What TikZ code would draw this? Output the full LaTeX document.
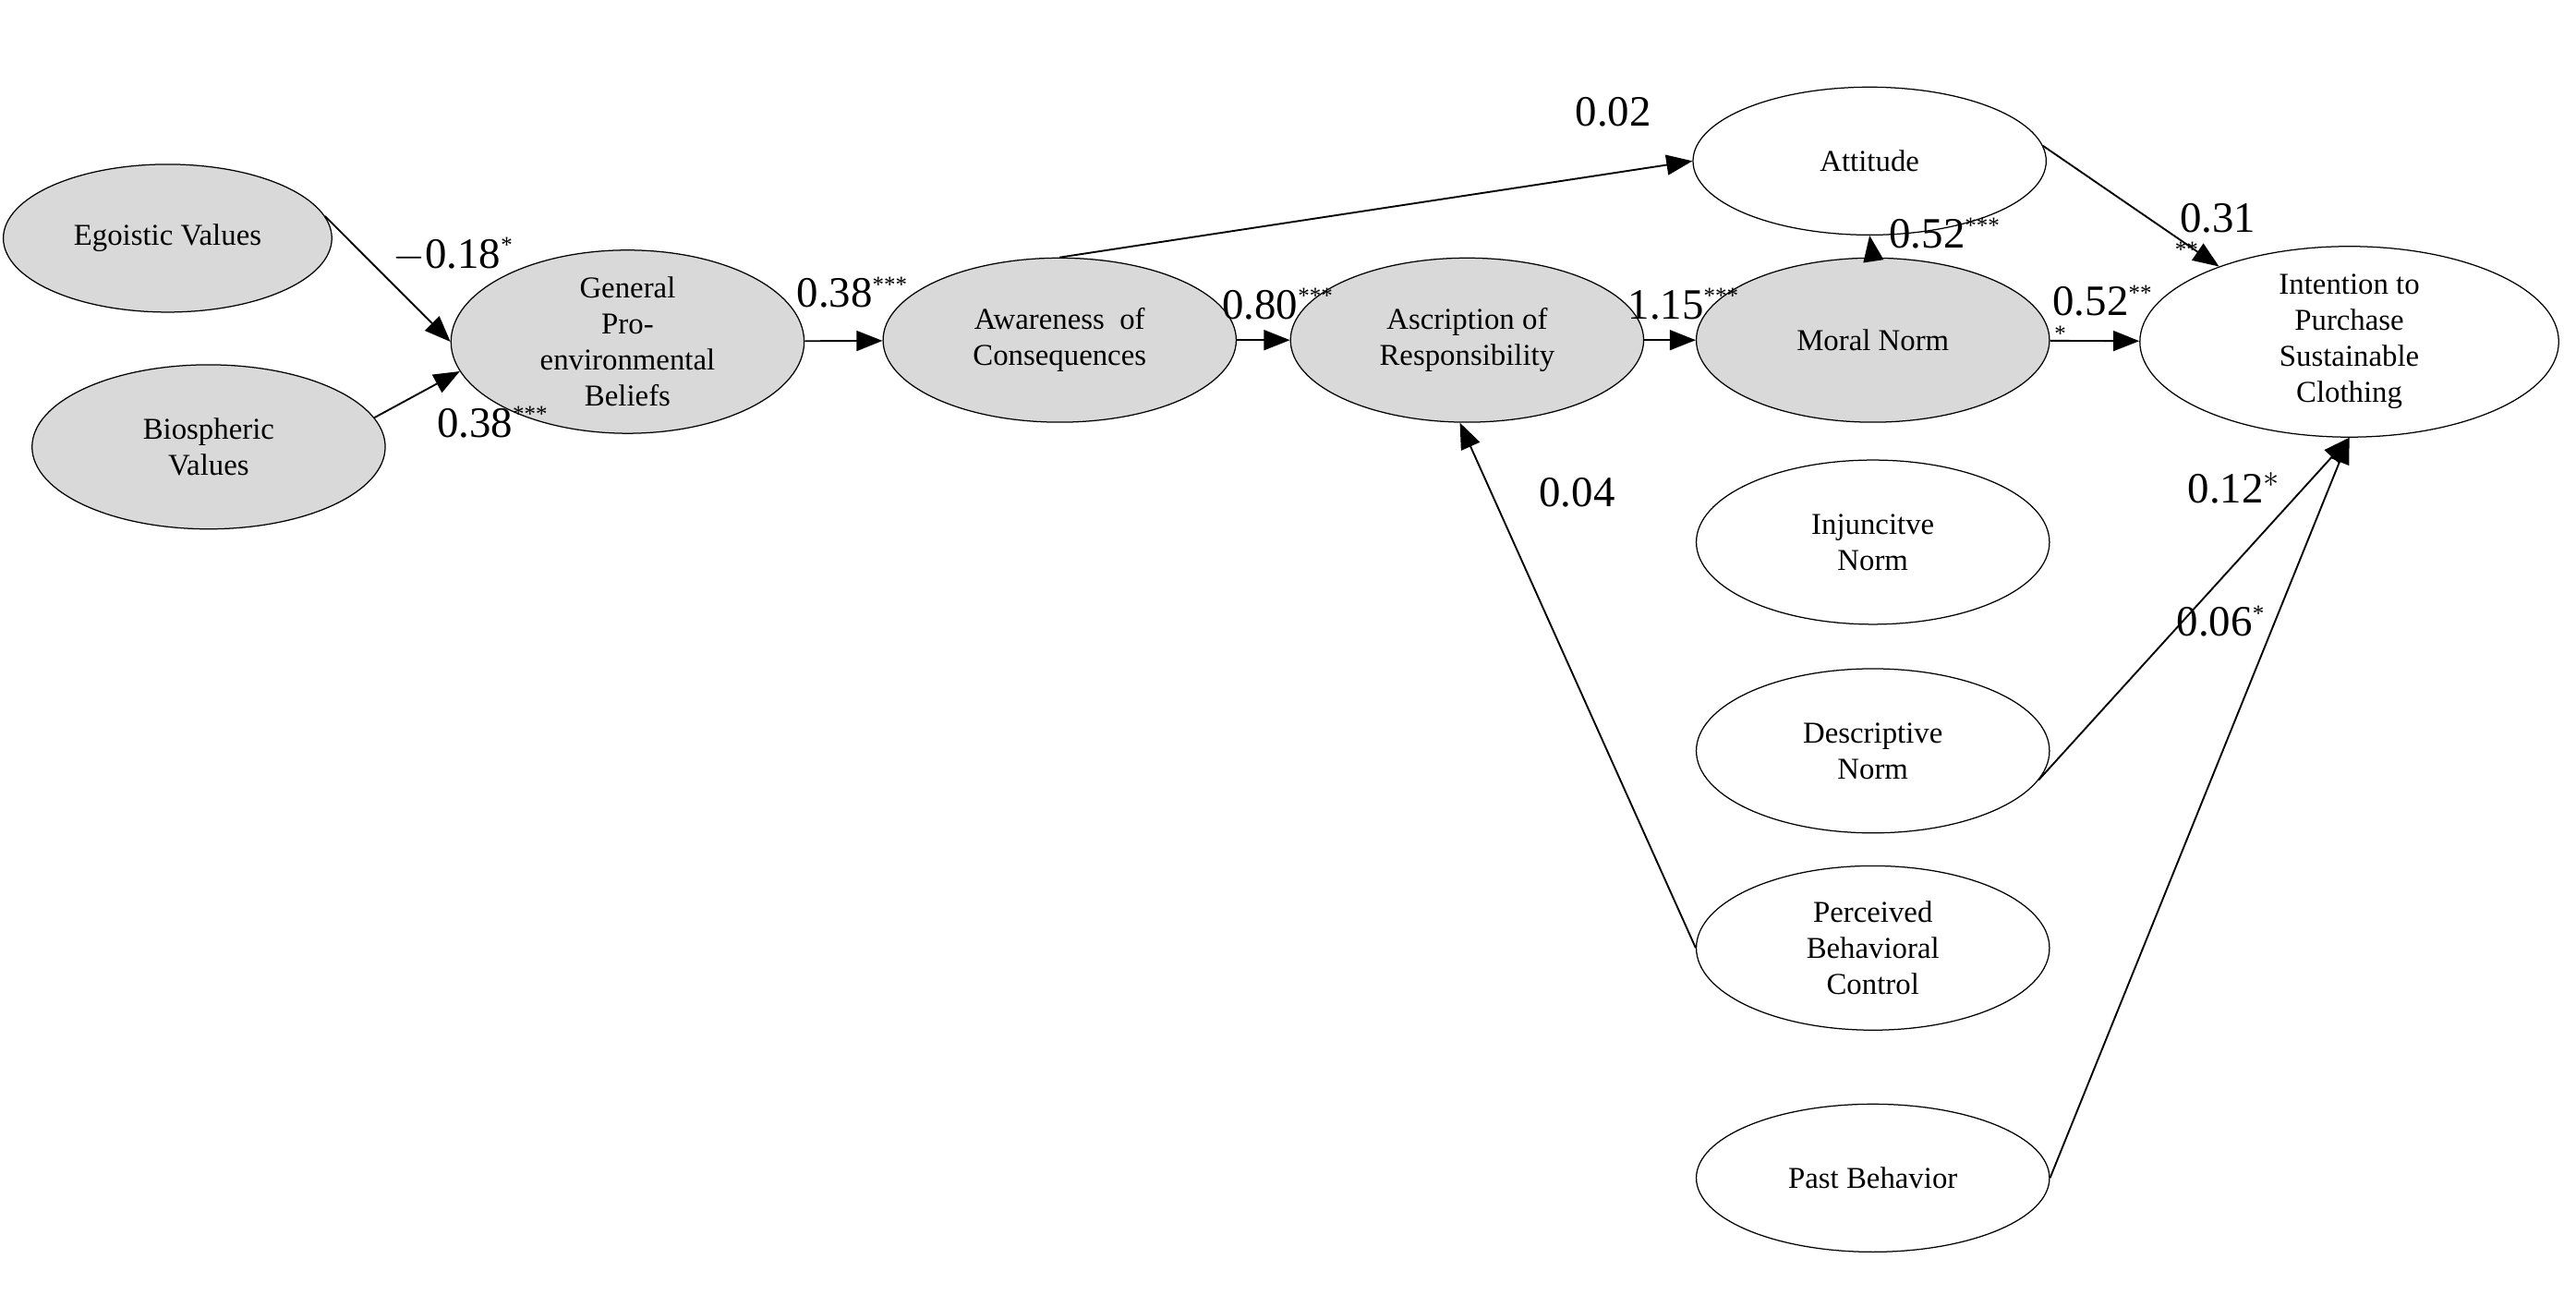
\documentclass[tikz,border=0pt]{standalone}
\usepackage{fontspec}
\setmainfont{Liberation Serif}
\usetikzlibrary{shapes.geometric,arrows.meta}
\definecolor{latent}{RGB}{217,217,217}
\newcommand{\sig}[1]{\textsuperscript{\fontsize{8}{8}\selectfont #1}}
\begin{document}
\begin{tikzpicture}[
    x=0.02cm, y=-0.02cm,
    every node/.style={font=\fontsize{10.5}{12.5}\selectfont},
    grey/.style={ellipse, draw, inner sep=0pt, minimum width=4.3cm, minimum height=2cm, fill=latent, align=center},
    plain/.style={ellipse, draw, inner sep=0pt, minimum width=4.3cm, minimum height=2cm, fill=white, align=center},
    coef/.style={font=\fontsize{15}{17}\selectfont, inner sep=1pt},
    arrow/.style={-{Triangle[length=9pt,width=7pt]}, semithick}
]
    \useasboundingbox (0,0) rectangle (1568,795);

    % Values and beliefs
    \node[grey, minimum width=4cm, minimum height=1.8cm] (ego) at (102,145) {Egoistic Values};
    \node[grey, minimum width=4.3cm] (bio) at (127,272) {Biospheric\\Values};
    \node[grey] (gpb) at (382,208) {General\\Pro-\\environmental\\Beliefs};
    \node[grey] (aoc) at (645,207) {Awareness\ \ of\\Consequences};
    \node[grey] (aor) at (893,207) {Ascription of\\Responsibility};
    \node[grey] (mn) at (1140,207) {Moral Norm};

    % Other predictors
    \node[plain, minimum height=1.8cm] (att) at (1138,98) {Attitude};
    \node[plain, minimum width=5.1cm, minimum height=2.2cm] (int) at (1430,208) {Intention to\\Purchase\\Sustainable\\Clothing};
    \node[plain] (inj) at (1140,330) {Injuncitve\\Norm};
    \node[plain] (des) at (1140,457) {Descriptive\\Norm};
    \node[plain] (pbc) at (1140,577) {Perceived\\Behavioral\\Control};
    \node[plain, minimum height=1.8cm] (past) at (1140,717) {Past Behavior};

    % Paths
    \draw[arrow] (ego.8) -- (gpb.west);
    \draw[arrow] (bio.10) -- (gpb.-170);
    \draw[arrow] (gpb) -- (aoc);
    \draw[arrow] (aoc) -- (aor);
    \draw[arrow] (aor) -- (mn);
    \draw[arrow] (mn) -- (int);
    \draw[arrow] (aoc.north) -- (att.west);
    \draw[arrow] (mn.north) -- (att.south);
    \draw[arrow] (att.5) -- (int.150);
    \draw[arrow] (pbc.west) -- (aor.-95);
    \draw[arrow] (des.-10) -- (int.-90);
    \draw[arrow] (past.east) -- (int.-90);

    % Coefficients
    \node[coef] (c1) at (276,155) {$-$0.18\sig{*}};
    \node[coef] (c2) at (300,257) {0.38\sig{***}};
    \node[coef] (c3) at (519,178) {0.38\sig{***}};
    \node[coef] (c4) at (982,68) {0.02};
    \node[coef] (c5) at (778,185) {0.80\sig{***}};
    \node[coef] (c6) at (1025,185) {1.15\sig{***}};
    \node[coef] (c7) at (1184,142) {0.52\sig{***}};
    \node[coef] (c8) at (1280,183) {0.52\sig{**}};
    \node[coef] (c9) at (1350,133) {0.31};
    \node[font=\fontsize{8}{8}\selectfont, inner sep=0pt] (c9s) at (1331,152) {**};
    \node[font=\fontsize{8}{8}\selectfont, inner sep=0pt] (c8s) at (1254,203) {*};
    \node[coef] (c10) at (960,300) {0.04};
    \node[coef] (c11) at (1360,297) {0.12$^{*}$};
    \node[coef] (c12) at (1352,378) {0.06\sig{*}};
\end{tikzpicture}
\end{document}
